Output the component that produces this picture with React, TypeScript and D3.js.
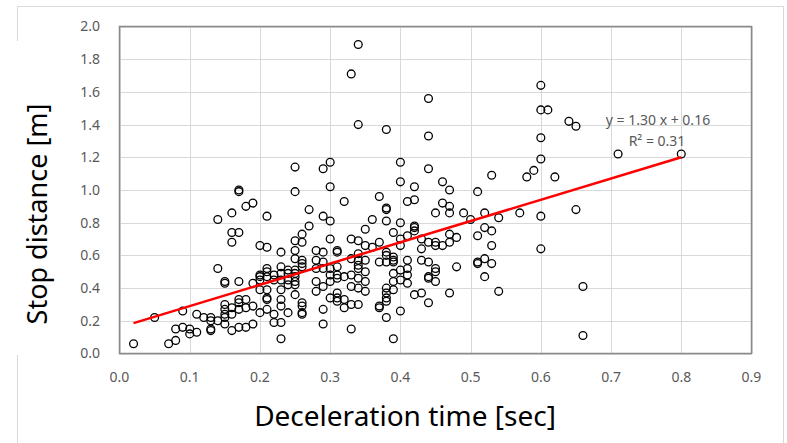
import React from 'react'
import * as d3 from 'd3'

// deceleration time [sec] -> stop distance [m], grouped by time ranges
const pointsEarly: [number, number][] = [
  [0.02, 0.06], [0.05, 0.22], [0.07, 0.06], [0.08, 0.08], [0.08, 0.15],
  [0.09, 0.16], [0.09, 0.26], [0.10, 0.15], [0.10, 0.12], [0.11, 0.13], [0.11, 0.24],
  [0.12, 0.22], [0.13, 0.22], [0.13, 0.20], [0.13, 0.15], [0.13, 0.14],
  [0.14, 0.20], [0.14, 0.52], [0.14, 0.82],
  [0.15, 0.44], [0.15, 0.43], [0.15, 0.30], [0.15, 0.27], [0.15, 0.24], [0.15, 0.22], [0.15, 0.18],
  [0.16, 0.86], [0.16, 0.74], [0.16, 0.68], [0.16, 0.28], [0.16, 0.24], [0.16, 0.14],
  [0.17, 1.00], [0.17, 0.99], [0.17, 0.74], [0.17, 0.44], [0.17, 0.33], [0.17, 0.31], [0.17, 0.27], [0.17, 0.16],
  [0.18, 0.90], [0.18, 0.33], [0.18, 0.28], [0.18, 0.16],
  [0.19, 0.92], [0.19, 0.43], [0.19, 0.29], [0.19, 0.18],
]

const pointsMid: [number, number][] = [
  [0.20, 0.66], [0.20, 0.48], [0.20, 0.47], [0.20, 0.45], [0.20, 0.39], [0.20, 0.25],
  [0.21, 0.84], [0.21, 0.65], [0.21, 0.52], [0.21, 0.50], [0.21, 0.47], [0.21, 0.39], [0.21, 0.34], [0.21, 0.33], [0.21, 0.27],
  [0.22, 0.48], [0.22, 0.45], [0.22, 0.24], [0.22, 0.19],
  [0.23, 0.62], [0.23, 0.53], [0.23, 0.49], [0.23, 0.45], [0.23, 0.39], [0.23, 0.33], [0.23, 0.29], [0.23, 0.19], [0.23, 0.09],
  [0.24, 0.51], [0.24, 0.49], [0.24, 0.45], [0.24, 0.42], [0.24, 0.25],
  [0.25, 1.14], [0.25, 0.99], [0.25, 0.69], [0.25, 0.63], [0.25, 0.58], [0.25, 0.51], [0.25, 0.49], [0.25, 0.47], [0.25, 0.44], [0.25, 0.42], [0.25, 0.36],
  [0.26, 0.73], [0.26, 0.68], [0.26, 0.57], [0.26, 0.55], [0.26, 0.53], [0.26, 0.31], [0.26, 0.29], [0.26, 0.25], [0.26, 0.24],
  [0.27, 0.88], [0.27, 0.78],
  [0.28, 0.63], [0.28, 0.57], [0.28, 0.52], [0.28, 0.44], [0.28, 0.38],
  [0.29, 1.13], [0.29, 0.84], [0.29, 0.62], [0.29, 0.56], [0.29, 0.52], [0.29, 0.41], [0.29, 0.27], [0.29, 0.18],
  [0.30, 1.17], [0.30, 1.02], [0.30, 0.81], [0.30, 0.70], [0.30, 0.52], [0.30, 0.48], [0.30, 0.44], [0.30, 0.34],
  [0.31, 0.63], [0.31, 0.62], [0.31, 0.53], [0.31, 0.48], [0.31, 0.46], [0.31, 0.37], [0.31, 0.34], [0.31, 0.32],
  [0.32, 0.93], [0.32, 0.47], [0.32, 0.33], [0.32, 0.28],
  [0.33, 1.71], [0.33, 0.70], [0.33, 0.58], [0.33, 0.48], [0.33, 0.41], [0.33, 0.30], [0.33, 0.15],
  [0.34, 1.89], [0.34, 1.40], [0.34, 0.69], [0.34, 0.61], [0.34, 0.57], [0.34, 0.54], [0.34, 0.52], [0.34, 0.46], [0.34, 0.40], [0.34, 0.30],
  [0.35, 0.76], [0.35, 0.66], [0.35, 0.57], [0.35, 0.50], [0.35, 0.44], [0.35, 0.38],
  [0.36, 0.82], [0.36, 0.65],
  [0.37, 0.96], [0.37, 0.68], [0.37, 0.56], [0.37, 0.29], [0.37, 0.28],
  [0.38, 1.37], [0.38, 0.89], [0.38, 0.88], [0.38, 0.81], [0.38, 0.62], [0.38, 0.60], [0.38, 0.56], [0.38, 0.40], [0.38, 0.37], [0.38, 0.34], [0.38, 0.32], [0.38, 0.22],
  [0.39, 0.74], [0.39, 0.59], [0.39, 0.57], [0.39, 0.56], [0.39, 0.49], [0.39, 0.44], [0.39, 0.39], [0.39, 0.09],
]

const pointsLate: [number, number][] = [
  [0.40, 1.17], [0.40, 1.05], [0.40, 0.80], [0.40, 0.70], [0.40, 0.66], [0.40, 0.51], [0.40, 0.45], [0.40, 0.26],
  [0.41, 0.93], [0.41, 0.72], [0.41, 0.57], [0.41, 0.52], [0.41, 0.48], [0.41, 0.43],
  [0.42, 1.02], [0.42, 0.94], [0.42, 0.78], [0.42, 0.77], [0.42, 0.75], [0.42, 0.36],
  [0.43, 0.70], [0.43, 0.64], [0.43, 0.57], [0.43, 0.37],
  [0.44, 1.56], [0.44, 1.33], [0.44, 1.13], [0.44, 0.68], [0.44, 0.56], [0.44, 0.47], [0.44, 0.46], [0.44, 0.31],
  [0.45, 0.86], [0.45, 0.68], [0.45, 0.66], [0.45, 0.52], [0.45, 0.50], [0.45, 0.44],
  [0.46, 1.05], [0.46, 0.92], [0.46, 0.66],
  [0.47, 1.00], [0.47, 0.90], [0.47, 0.86], [0.47, 0.73], [0.47, 0.68], [0.47, 0.37],
  [0.48, 0.71], [0.48, 0.53], [0.49, 0.86], [0.50, 0.82],
  [0.51, 0.99], [0.51, 0.72], [0.51, 0.56], [0.51, 0.55],
  [0.52, 0.86], [0.52, 0.77], [0.52, 0.58], [0.52, 0.47],
  [0.53, 1.09], [0.53, 0.75], [0.53, 0.66], [0.53, 0.55],
  [0.54, 0.83], [0.54, 0.38],
  [0.57, 0.86], [0.58, 1.08], [0.59, 1.12],
  [0.60, 1.64], [0.60, 1.49], [0.60, 1.32], [0.60, 1.19], [0.60, 0.84], [0.60, 0.64],
  [0.61, 1.49], [0.62, 1.08], [0.64, 1.42], [0.65, 1.39], [0.65, 0.88],
  [0.66, 0.41], [0.66, 0.11], [0.71, 1.22], [0.80, 1.22],
]

const xTicks = [0, 0.1, 0.2, 0.3, 0.4, 0.5, 0.6, 0.7, 0.8, 0.9]
const yTicks = [0, 0.2, 0.4, 0.6, 0.8, 1.0, 1.2, 1.4, 1.6, 1.8, 2.0]
const trendSlope = 1.30
const trendIntercept = 0.16
const trendRange = [0.02, 0.8]
const equationText = 'y = 1.30 x + 0.16'
const r2Text = 'R² = 0.31'

const W = 787
const H = 443
const plot = { left: 119.5, top: 26.5, right: 751.5, bottom: 353.5 }
const font = '"Noto Sans", sans-serif'

export default function App() {
  const x = d3.scaleLinear().domain([0, 0.9]).range([plot.left, plot.right])
  const y = d3.scaleLinear().domain([0, 2.0]).range([plot.bottom, plot.top])
  const points = [...pointsEarly, ...pointsMid, ...pointsLate]

  const trendLine = d3.line<number>()
    .x(d => x(d))
    .y(d => y(trendSlope * d + trendIntercept))

  return (
    <svg width={W} height={H} style={{ position: 'absolute', left: 0, top: 0, background: '#fff' }}>
      {/* chart area border (broken on the left like the source) */}
      <g stroke="#d9d9d9" strokeWidth={1} fill="none">
        <line x1={17.5} y1={6.5} x2={783.5} y2={6.5} />
        <line x1={783.5} y1={6.5} x2={783.5} y2={H} />
        <line x1={17.5} y1={6.5} x2={17.5} y2={41} />
        <line x1={17.5} y1={355} x2={17.5} y2={H} />
      </g>

      {/* gridlines */}
      <g stroke="#d9d9d9" strokeWidth={1}>
        {yTicks.map(t => (
          <line key={'gy' + t} x1={plot.left} x2={plot.right} y1={Math.round(y(t)) + 0.5} y2={Math.round(y(t)) + 0.5} />
        ))}
        {xTicks.map(t => (
          <line key={'gx' + t} y1={plot.top} y2={plot.bottom} x1={Math.round(x(t)) + 0.5} x2={Math.round(x(t)) + 0.5} />
        ))}
      </g>
      <rect x={plot.left} y={plot.top} width={plot.right - plot.left} height={plot.bottom - plot.top}
        fill="none" stroke="#898989" strokeWidth={1.5} />

      {/* tick labels */}
      <g fill="#595959" fontFamily={font} fontSize={14}>
        {yTicks.map(t => (
          <text key={'ly' + t} x={100} y={y(t)} dy="0.35em" textAnchor="end">{d3.format('.1f')(t)}</text>
        ))}
        {xTicks.map(t => (
          <text key={'lx' + t} x={x(t)} y={plot.bottom + 28} textAnchor="middle">{d3.format('.1f')(t)}</text>
        ))}
      </g>

      {/* markers */}
      <g fill="none" stroke="#000" strokeWidth={1.3}>
        {points.map((p, i) => (
          <circle key={i} cx={x(p[0])} cy={y(p[1])} r={3.9} />
        ))}
      </g>

      {/* linear trendline */}
      <path d={trendLine(trendRange) || ''} stroke="#ff0000" strokeWidth={2.5} fill="none" />
      <g fill="#595959" fontFamily={font} fontSize={14} textAnchor="middle">
        <text x={658} y={125}>{equationText}</text>
        <text x={657} y={146}>{r2Text}</text>
      </g>

      {/* axis titles */}
      <text x={405} y={426} textAnchor="middle" fontFamily={font} fontSize={28} fill="#000">
        Deceleration time [sec]
      </text>
      <text transform="translate(47,214) rotate(-90)" textAnchor="middle" fontFamily={font} fontSize={27} fill="#000">
        Stop distance [m]
      </text>
    </svg>
  )
}
